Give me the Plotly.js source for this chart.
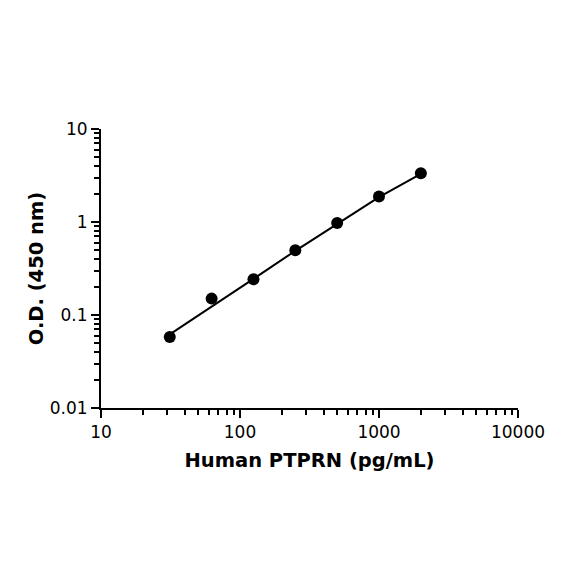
<!DOCTYPE html>
<html>
<head>
<meta charset="utf-8">
<script src="https://cdn.plot.ly/plotly-3.0.1.min.js"></script>
<style>
  html, body { margin: 0; padding: 0; background: #fff; }
  #graph { width: 584px; height: 584px; }
</style>
</head>
<body>
<div id="graph"></div>
<script>
// standard concentrations (pg/mL) and measured O.D.
var conc = [31.25, 62.5, 125, 250, 500, 1000, 2000];
var od = [0.058, 0.150, 0.242, 0.496, 0.975, 1.88, 3.34];

// fitted curve
var fitConc = [31.25, 62.5, 125, 250, 500, 1000, 2000];
var fitOd = [0.062, 0.122, 0.245, 0.49, 0.96, 1.85, 3.3];

var xTicks = [10, 100, 1000, 10000];
var xTickText = ['10', '100', '1000', '10000'];
var yTicks = [0.01, 0.1, 1, 10];
var yTickText = ['0.01', '0.1', '1', '10'];

var fontFam = '"DejaVu Sans", sans-serif';

var fit = {
  x: fitConc,
  y: fitOd,
  mode: 'lines',
  type: 'scatter',
  line: { color: '#000', width: 2 },
  hoverinfo: 'skip'
};

var pts = {
  x: conc,
  y: od,
  mode: 'markers',
  type: 'scatter',
  marker: { color: '#000', size: 12 }
};

var layout = {
  width: 584,
  height: 584,
  showlegend: false,
  paper_bgcolor: '#fff',
  plot_bgcolor: '#fff',
  margin: { l: 101, r: 66, t: 129, b: 176 },
  font: { family: fontFam, color: '#000' },
  xaxis: {
    type: 'log',
    range: [1, 4],
    tickvals: xTicks,
    ticktext: xTickText,
    ticks: 'outside',
    ticklen: 8,
    tickwidth: 2,
    tickcolor: '#000',
    showline: true,
    linecolor: '#000',
    linewidth: 2,
    showgrid: false,
    zeroline: false,
    tickfont: { size: 17, family: fontFam },
    minor: { ticks: 'outside', ticklen: 5, tickwidth: 2, tickcolor: '#000', dtick: 'D1', showgrid: false },
    title: { text: '<b>Human PTPRN (pg/mL)</b>', font: { size: 19.5, family: fontFam }, standoff: 12 }
  },
  yaxis: {
    type: 'log',
    range: [-2, 1],
    tickvals: yTicks,
    ticktext: yTickText,
    ticks: 'outside',
    ticklen: 8,
    tickwidth: 2,
    tickcolor: '#000',
    showline: true,
    linecolor: '#000',
    linewidth: 2,
    showgrid: false,
    zeroline: false,
    tickfont: { size: 17, family: fontFam },
    minor: { ticks: 'outside', ticklen: 5, tickwidth: 2, tickcolor: '#000', dtick: 'D1', showgrid: false },
    title: { text: '<b>O.D. (450 nm)</b>', font: { size: 19.5, family: fontFam }, standoff: 1 }
  }
};

Plotly.newPlot('graph', [fit, pts], layout, { displayModeBar: false, staticPlot: true });
</script>
</body>
</html>
